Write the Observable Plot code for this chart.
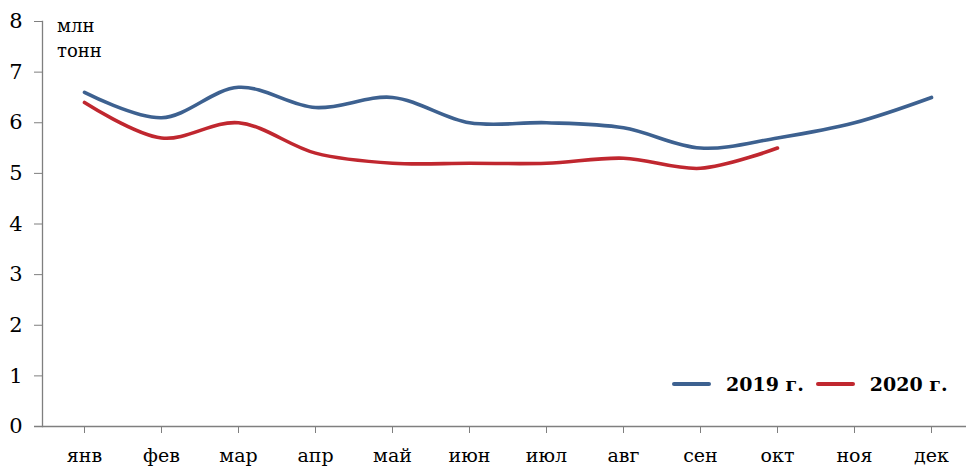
<!DOCTYPE html>
<html><head><meta charset="utf-8">
<script src="https://cdn.jsdelivr.net/npm/d3@7"></script>
<script src="https://cdn.jsdelivr.net/npm/@observablehq/plot@0.6"></script>
<style>
body{margin:0;background:#fff;}
#wrap{position:relative;width:966px;height:466px;font-family:"DejaVu Serif",serif;}
#unit{position:absolute;left:57px;top:13px;font-size:18px;line-height:25px;color:#000;}
#legend{position:absolute;left:672px;top:373px;font-size:19px;font-weight:bold;display:flex;align-items:center;color:#000;}
#legend .sw{display:inline-block;width:39px;height:4px;border-radius:2px;margin-right:15px;}
#legend span.t{margin-right:12px;}
</style></head><body>
<div id="wrap"><div id="chart"></div>
<div id="unit">млн<br>тонн</div>
<div id="legend"></div></div>
<script>
const months = ["янв","фев","мар","апр","май","июн","июл","авг","сен","окт","ноя","дек"];
const values2019 = [6.6, 6.1, 6.7, 6.3, 6.5, 6.0, 6.0, 5.9, 5.5, 5.7, 6.0, 6.5];
const values2020 = [6.4, 5.7, 6.0, 5.4, 5.2, 5.2, 5.2, 5.3, 5.1, 5.5];
const seriesNames = ["2019 г.", "2020 г."];
const colors = ["#3d6190", "#c0272f"];
const yTicks = [0,1,2,3,4,5,6,7,8];

const data = [];
values2019.forEach((v,i)=>data.push({m:months[i], v, s:seriesNames[0]}));
values2020.forEach((v,i)=>data.push({m:months[i], v, s:seriesNames[1]}));

const chart = Plot.plot({
  width: 966, height: 466,
  marginLeft: 42, marginRight: 0, marginTop: 21, marginBottom: 40,
  style: {fontFamily: '"DejaVu Serif", serif', fontSize: "19px", color: "#000", background: "#fff"},
  x: {type: "point", domain: months, range: [82, 932], padding: 0},
  y: {domain: [0, 8], range: [426, 21]},
  color: {domain: seriesNames, range: colors},
  marks: [
    Plot.axisY({ticks: yTicks, tickSize: 8, tickPadding: 12, label: null, stroke: "#7f7f7f", fill: "#000", fontSize: 21}),
    Plot.axisX({tickSize: 7, tickPadding: 15, label: null, stroke: "#7f7f7f", fill: "#000", fontSize: 19}),
    Plot.frame({anchor: "left", stroke: "#7f7f7f", strokeWidth: 1.3}),
    Plot.ruleY([0], {stroke: "#7f7f7f", strokeWidth: 1.3, insetLeft: -8}),
    Plot.line(data, {x: "m", y: "v", z: "s", stroke: "s", strokeWidth: 3.6, curve: "catmull-rom", strokeLinecap: "round"})
  ]
});
document.getElementById("chart").appendChild(chart);

const lg = document.getElementById("legend");
seriesNames.forEach((n,i)=>{
  const sw = document.createElement("span"); sw.className="sw"; sw.style.background = colors[i];
  const t = document.createElement("span"); t.className="t"; t.textContent = n;
  lg.appendChild(sw); lg.appendChild(t);
});
</script></body></html>
